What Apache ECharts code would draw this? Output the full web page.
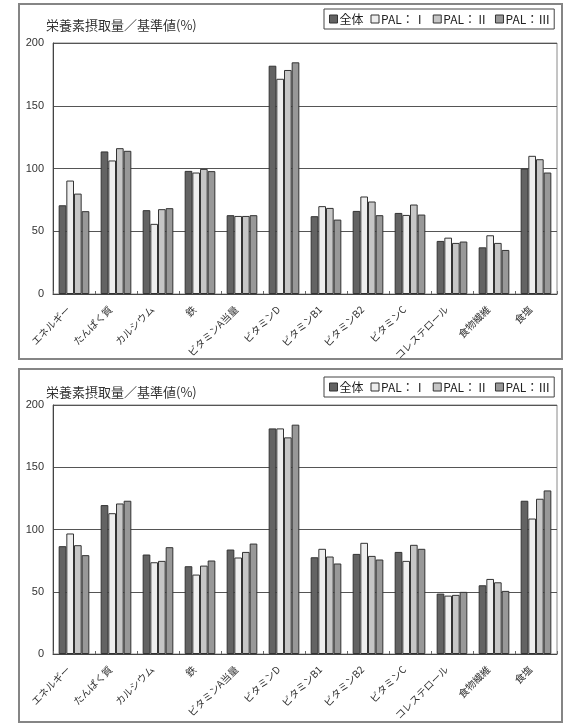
<!DOCTYPE html>
<html>
<head>
<meta charset="utf-8">
<script src="https://cdn.jsdelivr.net/npm/echarts@6/dist/echarts.min.js"></script>
<style>
  body { margin: 0; background: #fff; }
  .chart { position: absolute; left: 0; width: 567px; }
</style>
</head>
<body>
<div id="chart1" class="chart" style="top:0;height:364px"></div>
<div id="chart2" class="chart" style="top:364px;height:361px"></div>
<script>
// 栄養素摂取量／基準値(%)
const categories = ['エネルギー', 'たんぱく質', 'カルシウム', '鉄', 'ビタミンA当量', 'ビタミンD',
  'ビタミンB1', 'ビタミンB2', 'ビタミンC', 'コレステロール', '食物繊維', '食塩'];
const seriesNames = ['全体', 'PAL：Ⅰ', 'PAL：Ⅱ', 'PAL：Ⅲ'];
const colors = ['#636363', '#eeeeee', '#c6c6c6', '#989898'];

// upper chart
const topAll  = [70.7, 113.6, 66.8, 98.1, 62.8, 181.9, 62.0, 66.2, 64.6, 42.3, 37.2, 100.0];
const topPal1 = [90.4, 106.4, 55.9, 96.8, 62.2, 171.5, 70.0, 77.7, 63.0, 44.9, 46.8, 110.1];
const topPal2 = [80.0, 116.2, 67.6, 99.7, 62.2, 178.5, 68.6, 73.7, 71.3, 40.7, 40.7, 107.4];
const topPal3 = [66.0, 114.1, 68.4, 97.9, 62.8, 184.6, 59.3, 62.8, 63.3, 41.8, 35.1, 96.8];

// lower chart
const botAll  = [86.6, 119.6, 79.9, 70.5, 83.9, 181.2, 77.7, 80.4, 82.0, 48.5, 55.2, 123.1];
const botPal1 = [96.8, 113.1, 73.7, 63.8, 77.5, 181.2, 84.5, 89.3, 74.8, 46.9, 60.3, 108.8];
const botPal2 = [87.4, 120.9, 74.8, 71.0, 82.0, 174.0, 78.3, 78.8, 87.7, 47.5, 57.6, 124.7];
const botPal3 = [79.4, 123.1, 85.8, 75.1, 88.7, 184.2, 72.7, 75.9, 84.5, 49.9, 50.7, 131.4];

const yMin = 0, yMax = 200, yStep = 50;

const jp = '"Noto Sans CJK JP", sans-serif';

function makeOption(values, lay) {
  return {
    animation: false,
    textStyle: { fontFamily: jp },
    title: {
      text: '栄養素摂取量／基準値(%)',
      left: 41, top: lay.titleTop,
      textStyle: { fontSize: 13, fontWeight: 'normal', color: '#333', fontFamily: jp }
    },
    graphic: [{
      type: 'rect',
      shape: { x: 19, y: lay.boxTop, width: 543, height: lay.boxH },
      style: { fill: 'none', stroke: '#858585', lineWidth: 2 },
      silent: true
    }],
    legend: {
      left: 324, top: lay.legendTop, width: 320,
      data: seriesNames,
      icon: 'rect',
      itemWidth: 8, itemHeight: 8, itemGap: 7,
      padding: [4, 4, 4, 5],
      borderColor: '#444', borderWidth: 1,
      itemStyle: { borderColor: '#333', borderWidth: 1 },
      textStyle: { fontSize: 12, color: '#222', fontFamily: jp, padding: [0, 0, 0, -3] }
    },
    grid: {
      left: 53, right: 10, top: lay.gridTop, bottom: lay.gridBottom,
      outerBoundsMode: 'none', containLabel: false,
      show: true, borderColor: '#8a8a8a', borderWidth: 1
    },
    xAxis: {
      type: 'category',
      data: categories,
      axisLine: { lineStyle: { color: '#444', width: 1 } },
      axisTick: { show: true, inside: true, length: 3, lineStyle: { color: '#666' } },
      axisLabel: {
        rotate: 45, interval: 0, fontSize: 10, color: '#333', margin: 8,
        padding: [0, 8, 0, 0], fontFamily: jp
      }
    },
    yAxis: {
      type: 'value',
      min: yMin, max: yMax, interval: yStep,
      axisLine: { show: true, lineStyle: { color: '#444', width: 1 } },
      axisTick: { show: false },
      splitLine: { lineStyle: { color: '#555', width: 1 } },
      axisLabel: { fontSize: 11, color: '#333', margin: 9, fontFamily: '"Liberation Sans", sans-serif' }
    },
    series: values.map((v, i) => ({
      name: seriesNames[i],
      type: 'bar',
      data: v,
      barGap: '0%',
      barCategoryGap: '27%',
      itemStyle: { color: colors[i], borderColor: '#333', borderWidth: 1 }
    }))
  };
}

const chart1 = echarts.init(document.getElementById('chart1'));
chart1.setOption(makeOption([topAll, topPal1, topPal2, topPal3],
  { titleTop: 14, boxTop: 4, boxH: 355, legendTop: 9, gridTop: 43, gridBottom: 70 }));

const chart2 = echarts.init(document.getElementById('chart2'));
chart2.setOption(makeOption([botAll, botPal1, botPal2, botPal3],
  { titleTop: 17, boxTop: 5, boxH: 353, legendTop: 13, gridTop: 41, gridBottom: 71 }));
</script>
</body>
</html>
